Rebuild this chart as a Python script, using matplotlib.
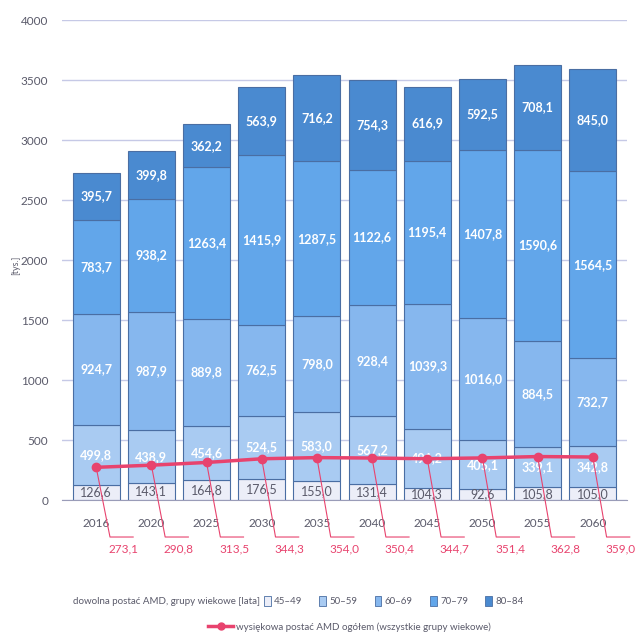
import matplotlib.pyplot as plt
from matplotlib.patches import Patch
from matplotlib.lines import Line2D

plt.rcParams['font.family'] = ['Lato', 'DejaVu Sans']

years = ['2016', '2020', '2025', '2030', '2035', '2040', '2045', '2050', '2055', '2060']
groups = ['45–49', '50–59', '60–69', '70–79', '80–84']
g45_49 = [126.6, 143.1, 164.8, 176.5, 155.0, 131.4, 104.3, 92.6, 105.8, 105.0]
g50_59 = [499.8, 438.9, 454.6, 524.5, 583.0, 567.2, 491.2, 405.1, 339.1, 342.8]
g60_69 = [924.7, 987.9, 889.8, 762.5, 798.0, 928.4, 1039.3, 1016.0, 884.5, 732.7]
g70_79 = [783.7, 938.2, 1263.4, 1415.9, 1287.5, 1122.6, 1195.4, 1407.8, 1590.6, 1564.5]
g80_84 = [395.7, 399.8, 362.2, 563.9, 716.2, 754.3, 616.9, 592.5, 708.1, 845.0]
wet_amd = [273.1, 290.8, 313.5, 344.3, 354.0, 350.4, 344.7, 351.4, 362.8, 359.0]

colors = ['#eceef8', '#a9cbf2', '#86b7ee', '#62a6ea', '#4a8ad0']
pink = '#e8436e'
grey = '#5a5a6a'

def fmt(v):
    return f'{v:.1f}'.replace('.', ',')

fig = plt.figure(figsize=(6.37, 6.33), dpi=100)
ax = fig.add_axes([0.0973, 0.210, 0.887, 0.758])

x = list(range(len(years)))
bottom = [0.0] * len(years)
for k, vals in enumerate([g45_49, g50_59, g60_69, g70_79, g80_84]):
    ax.bar(x, vals, bottom=bottom, width=0.85, color=colors[k],
           edgecolor='#4a6ea3', linewidth=0.8, zorder=2)
    for i, v in enumerate(vals):
        ax.text(i, bottom[i] + v / 2, fmt(v), ha='center', va='center',
                fontsize=9, color=grey if k == 0 else 'white',
                fontweight='normal' if k == 0 else 'bold', zorder=4)
    bottom = [b + v for b, v in zip(bottom, vals)]

# wet AMD line with leader lines to values under the axis
ax.plot(x, wet_amd, color=pink, lw=2.5, marker='o', ms=6, zorder=5)
for i, v in enumerate(wet_amd):
    ax.plot([i, i + 0.25, i + 0.67], [v, -308, -308], color=pink, lw=0.8,
            clip_on=False, zorder=5)
    ax.text(i + 0.5, -405, fmt(v), ha='center', va='center', fontsize=8.5,
            color=pink)

ax.set_xlim(-0.62, 9.62)
ax.set_ylim(0, 4000)
ax.set_yticks(range(0, 4001, 500))
ax.set_xticks(x)
ax.set_xticklabels(years)
ax.tick_params(axis='both', length=0, labelsize=8.5, labelcolor=grey)
ax.tick_params(axis='x', pad=13)
ax.tick_params(axis='y', pad=10)
ax.grid(axis='y', color='#c6c9e6', lw=1, zorder=0)
for s in ['top', 'right', 'left']:
    ax.spines[s].set_visible(False)
ax.spines['bottom'].set_color('#9a9cb8')
ax.spines['bottom'].set_zorder(3)
fig.text(16 / 637, 1 - 265 / 633, '[tys.]', rotation=90, ha='center',
         va='center', fontsize=6.5, color=grey)

# legends
fig.text(73 / 637, 1 - 601 / 633, 'dowolna postać AMD, grupy wiekowe [lata]',
         ha='left', va='center', fontsize=7, color=grey)
handles = [Patch(facecolor=c, edgecolor='#4a6ea3', lw=0.6) for c in colors]
fig.legend(handles, groups, ncol=5, loc='center left',
           bbox_to_anchor=(259 / 637, 1 - 601 / 633), frameon=False,
           fontsize=7, handlelength=0.7, handleheight=1.3,
           handletextpad=0.35, columnspacing=1.75, labelcolor=grey,
           borderpad=0)
line_h = [Line2D([0], [0], color=pink, lw=2.5, marker='o', ms=5)]
fig.legend(line_h, ['wysiękowa postać AMD ogółem (wszystkie grupy wiekowe)'],
           loc='center left', bbox_to_anchor=(203 / 637, 1 - 627 / 633),
           frameon=False, fontsize=7, handlelength=2.6, handletextpad=0.3,
           labelcolor=grey, borderpad=0)

fig.savefig('out.png', dpi=100, facecolor='white')
